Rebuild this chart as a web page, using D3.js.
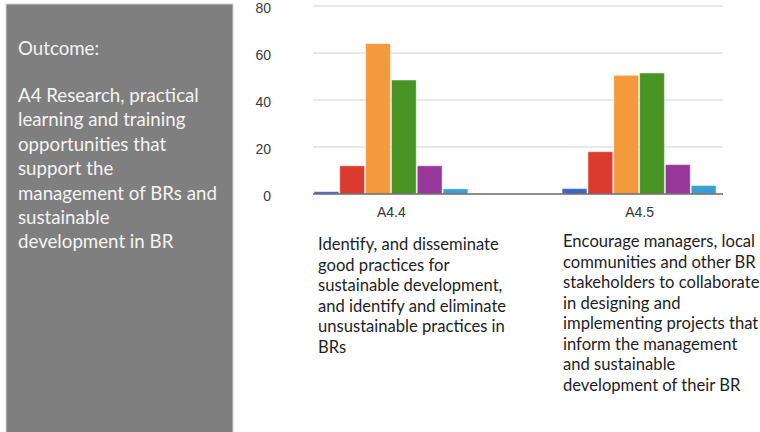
<!DOCTYPE html>
<html>
<head>
<meta charset="utf-8">
<script src="https://cdn.jsdelivr.net/npm/d3@7/dist/d3.min.js"></script>
<style>
  html, body { margin: 0; padding: 0; background: #fff; }
  svg { display: block; }
</style>
</head>
<body>
<svg id="chart" width="760" height="432"></svg>
<script>
// data
var categories = ["A4.4", "A4.5"];
var seriesNames = ["s1", "s2", "s3", "s4", "s5", "s6"];
var blueVals = [1, 2.3];
var redVals = [12, 18];
var orangeVals = [64, 50.5];
var greenVals = [48.5, 51.5];
var purpleVals = [12, 12.5];
var cyanVals = [2.2, 3.6];
var yTicks = [0, 20, 40, 60, 80];

var outcomeTitle = "Outcome:";
var outcomeLines = ["A4 Research, practical", "learning and training", "opportunities that",
    "support the", "management of BRs and", "sustainable", "development in BR"];
var descA44 = ["Identify, and disseminate", "good practices for", "sustainable development,",
    "and identify and eliminate", "unsustainable practices in", "BRs"];
var descA45 = ["Encourage managers, local", "communities and other BR", "stakeholders to collaborate",
    "in designing and", "implementing projects that", "inform the management",
    "and sustainable", "development of their BR"];

var colors = ["#3b66c8", "#dc3b2f", "#f29a3c", "#489526", "#97379a", "#3a9fd1"];
var allSeries = [blueVals, redVals, orangeVals, greenVals, purpleVals, cyanVals];

var svg = d3.select("#chart");

// grey outcome panel on the left
svg.append("rect")
    .attr("x", 6).attr("y", 4)
    .attr("width", 227).attr("height", 440)
    .attr("fill", "#7f7f7f")
    .attr("stroke", "#d4d4d4").attr("stroke-width", 1);

var panelFont = "Lato, 'Open Sans', sans-serif";
svg.append("text")
    .attr("x", 18).attr("y", 55)
    .attr("fill", "#f4f4f4")
    .style("font-family", panelFont).style("font-size", "18.7px")
    .text(outcomeTitle);

svg.append("g").selectAll("text")
    .data(outcomeLines)
    .enter().append("text")
    .attr("x", 18)
    .attr("y", function(d, i) { return 102 + i * 24.4; })
    .attr("fill", "#f4f4f4")
    .style("font-family", panelFont).style("font-size", "18.7px")
    .text(function(d) { return d; });

// scales
var y = d3.scaleLinear().domain([0, 80]).range([194, 6]);
var x = d3.scalePoint().domain(categories).range([309, 721]).padding(0.33);
var inner = d3.scaleBand().domain(d3.range(seriesNames.length)).range([-77, 77]).paddingInner(0.04);

// gridlines
svg.append("g").selectAll("line")
    .data(yTicks.filter(function(t) { return t > 0; }))
    .enter().append("line")
    .attr("x1", 313).attr("x2", 723)
    .attr("y1", function(d) { return y(d); })
    .attr("y2", function(d) { return y(d); })
    .attr("stroke", "#e2e2e2").attr("stroke-width", 1.5);

// y axis labels
var yAxis = d3.axisLeft(y).tickValues(yTicks).tickSize(0).tickPadding(0);
var gy = svg.append("g").attr("transform", "translate(271,0)").call(yAxis);
gy.select(".domain").remove();
gy.selectAll("text")
    .attr("dy", "0.45em")
    .attr("fill", "#3a3a3a")
    .style("font-family", "'Liberation Sans', Arial, sans-serif")
    .style("font-size", "14px");

// bars
var groups = svg.append("g").selectAll("g")
    .data(categories)
    .enter().append("g")
    .attr("transform", function(d) { return "translate(" + x(d) + ",0)"; });

groups.selectAll("rect")
    .data(function(d, ci) { return allSeries.map(function(vals, si) { return {si: si, v: vals[ci]}; }); })
    .enter().append("rect")
    .attr("x", function(d) { return inner(d.si); })
    .attr("width", inner.bandwidth())
    .attr("y", function(d) { return y(d.v); })
    .attr("height", function(d) { return y(0) - y(d.v); })
    .attr("fill", function(d) { return colors[d.si]; })
    .attr("stroke", "rgba(255,255,255,0.45)").attr("stroke-width", 1);

// baseline
svg.append("line")
    .attr("x1", 313).attr("x2", 723)
    .attr("y1", y(0)).attr("y2", y(0))
    .attr("stroke", "#6a6a6a").attr("stroke-width", 1.5);

// category labels
var xAxis = d3.axisBottom(x).tickSize(0).tickPadding(0);
var gx = svg.append("g").attr("transform", "translate(0,212)").call(xAxis);
gx.select(".domain").remove();
gx.selectAll("text")
    .attr("dy", "0.35em")
    .attr("fill", "#333")
    .style("font-family", "'Liberation Sans', Arial, sans-serif")
    .style("font-size", "14px");

// descriptions under each category
function descBlock(lines, x0, y0) {
    svg.append("g").selectAll("text")
        .data(lines)
        .enter().append("text")
        .attr("x", x0)
        .attr("y", function(d, i) { return y0 + i * 20.5; })
        .attr("fill", "#1e1e1e")
        .style("font-family", panelFont).style("font-size", "16.6px")
        .text(function(d) { return d; });
}
descBlock(descA44, 318, 250);
descBlock(descA45, 563, 247);
</script>
</body>
</html>
